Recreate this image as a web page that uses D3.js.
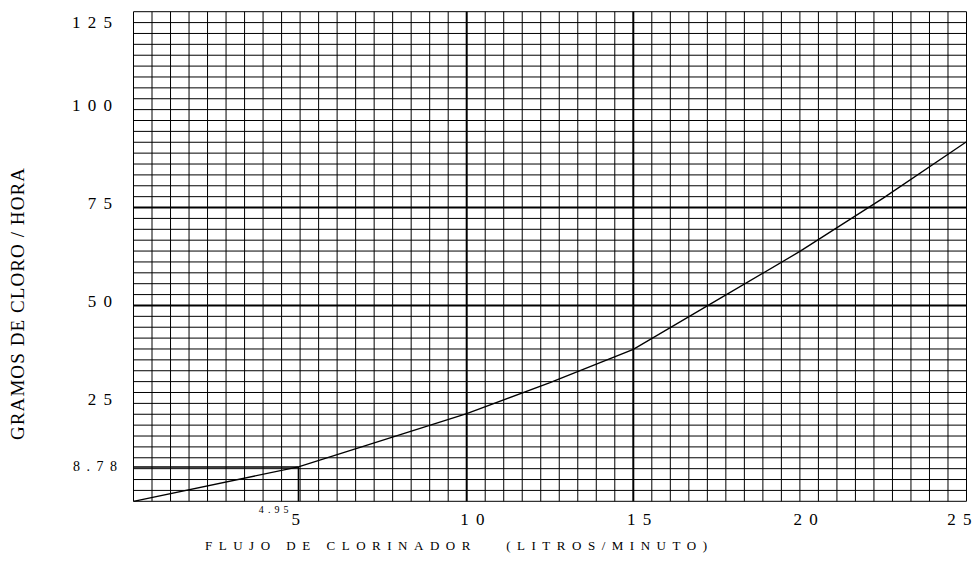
<!DOCTYPE html>
<html>
<head>
<meta charset="utf-8">
<script src="https://cdn.jsdelivr.net/npm/d3@7"></script>
<style>
  body { margin: 0; background: #fff; }
  svg text { font-family: "Liberation Serif", "Times New Roman", Times, "DejaVu Serif", serif; fill: #000; }
</style>
</head>
<body>
<div id="chart"></div>
<script>
// Chart data
const flujo = [0, 4.95, 10, 12.5, 15, 17.5, 20, 22.5, 25];
const gramos = [0, 8.78, 22.4, 30.3, 38.8, 51.3, 63.8, 77.4, 91.8];
const xTicks = [5, 10, 15, 20, 25];
const yTicks = [25, 50, 75, 100, 125];
const marker = { x: 4.95, y: 8.78 };
const boldX = [10, 15];
const boldY = [50, 75];

const serif = '"Liberation Serif", "Times New Roman", Times, "DejaVu Serif", serif';

const W = 973, H = 562;
const margin = { top: 11.7, right: 6.5, bottom: 60.7, left: 133.5 },
    width = W - margin.left - margin.right,
    height = H - margin.top - margin.bottom;

const svg = d3.select("#chart").append("svg")
    .attr("width", W)
    .attr("height", H);

const g = svg.append("g")
    .attr("transform", `translate(${margin.left},${margin.top})`);

const x = d3.scaleLinear().domain([0, 25]).range([0, width]);
const y = d3.scaleLinear().domain([0, 125]).range([height, 0]);

// grid: 45 divisions each way
const xGrid = d3.range(46).map(i => i * 25 / 45);
const yGrid = d3.range(46).map(i => i * 125 / 45);

g.append("g").selectAll("line")
    .data(xGrid)
    .join("line")
    .attr("x1", d => x(d)).attr("x2", d => x(d))
    .attr("y1", 0).attr("y2", height)
    .attr("stroke", "#000")
    .attr("stroke-width", d => boldX.some(b => Math.abs(b - d) < 1e-6) ? 2 : 1);

g.append("g").selectAll("line")
    .data(yGrid)
    .join("line")
    .attr("y1", d => y(d)).attr("y2", d => y(d))
    .attr("x1", 0).attr("x2", width)
    .attr("stroke", "#000")
    .attr("stroke-width", d => boldY.some(b => Math.abs(b - d) < 1e-6) ? 2 : 1);

// marker lines at 4.95 / 8.78
g.append("line")
    .attr("x1", 0).attr("x2", x(marker.x))
    .attr("y1", y(marker.y)).attr("y2", y(marker.y))
    .attr("stroke", "#000").attr("stroke-width", 1.5);
g.append("line")
    .attr("x1", x(marker.x)).attr("x2", x(marker.x))
    .attr("y1", y(marker.y)).attr("y2", height)
    .attr("stroke", "#000").attr("stroke-width", 1.5);

// curve
const line = d3.line()
    .x((d, i) => x(flujo[i]))
    .y(d => y(d));
g.append("path")
    .datum(gramos)
    .attr("fill", "none")
    .attr("stroke", "#000")
    .attr("stroke-width", 1.3)
    .attr("d", line);

const spaced = v => String(v).split("").join(" ");

// Y axis labels
const yAxis = g.append("g")
    .call(d3.axisLeft(y).tickValues(yTicks).tickSize(0).tickPadding(20).tickFormat(spaced));
yAxis.select(".domain").remove();
yAxis.attr("font-family", serif);
yAxis.selectAll("text")
    .style("font-size", "17px")
    .attr("letter-spacing", "1.5px")
    .attr("dy", d => d === 125 ? "0.95em" : "0.05em");

g.append("text")
    .attr("x", -15)
    .attr("y", y(marker.y))
    .attr("dy", "0.3em")
    .attr("text-anchor", "end")
    .attr("letter-spacing", "1.5px")
    .style("font-size", "14px")
    .text(spaced(marker.y));

// X axis labels
const xAxis = g.append("g")
    .attr("transform", `translate(0,${height})`)
    .call(d3.axisBottom(x).tickValues(xTicks).tickSize(0).tickPadding(12).tickFormat(spaced));
xAxis.select(".domain").remove();
xAxis.attr("font-family", serif);
xAxis.selectAll("text")
    .style("font-size", "17px")
    .attr("letter-spacing", "1.5px")
    .attr("text-anchor", d => d === 25 || d === 5 ? "end" : "middle")
    .attr("dx", d => d === 5 ? 1 : 6);

g.append("text")
    .attr("x", x(marker.x) - 9)
    .attr("y", height + 12)
    .attr("text-anchor", "end")
    .attr("letter-spacing", "0.8px")
    .style("font-size", "10px")
    .text(spaced(marker.x));

// axis titles
svg.append("text")
    .attr("x", 205)
    .attr("y", 550)
    .attr("textLength", 502)
    .attr("lengthAdjust", "spacing")
    .style("font-size", "13px")
    .style("white-space", "pre")
    .text("FLUJO DE CLORINADOR   (LITROS/MINUTO)");

svg.append("text")
    .attr("transform", "translate(24,440) rotate(-90)")
    .attr("textLength", 272)
    .attr("lengthAdjust", "spacing")
    .style("font-size", "19px")
    .text("GRAMOS DE CLORO / HORA");
</script>
</body>
</html>
